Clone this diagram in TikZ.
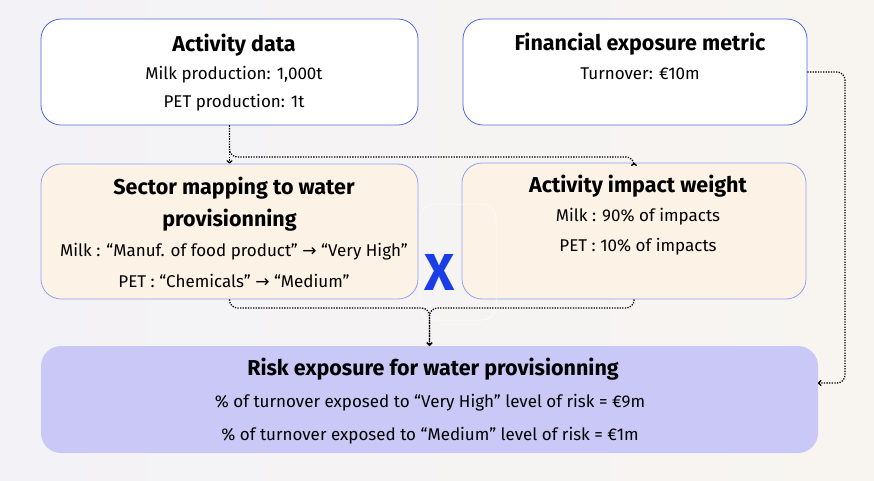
\documentclass[tikz,border=0pt]{standalone}
\usepackage{fontspec}
\setmainfont{Fira Sans}
\newfontfamily\arrowfont{DejaVu Sans}
\usetikzlibrary{arrows.meta}
\definecolor{bgL}{HTML}{F3F2F6}
\definecolor{bgR}{HTML}{F8F5F1}
\definecolor{topB}{HTML}{4B6BDF}
\definecolor{midB}{HTML}{8FA1EF}
\definecolor{midF}{HTML}{FCF2E6}
\definecolor{riskF}{HTML}{C9C8F6}
\definecolor{xblue}{HTML}{1A3DE8}
\newcommand{\rarr}{{\arrowfont →}}
\tikzset{
  box/.style={rounded corners=20pt, minimum width=#1, inner sep=0pt},
  topbox/.style={draw=topB, line width=0.8pt, fill=white},
  midbox/.style={draw=midB, line width=0.8pt, fill=midF},
  riskbox/.style={fill=riskF},
  ttl/.style={font=\fontsize{21.5}{24}\selectfont\bfseries, anchor=center},
  txt/.style={font=\fontsize{17}{20}\selectfont, anchor=center},
  conn/.style={line width=1.3pt, dash pattern=on 1.3pt off 1.3pt, rounded corners=8pt, -{To[length=3.5pt,width=6pt]}}
}
\begin{document}
\begin{tikzpicture}[x=1pt,y=-1pt]
\shade[left color=bgL, right color=bgR] (0,0) rectangle (874,480);
\useasboundingbox (0,0) rectangle (874,480);
% boxes
\node[box=377pt, minimum height=106pt, topbox] (act) at (229.5,72) {};
\node[box=344pt, minimum height=106pt, topbox] (fin) at (635,72) {};
\node[box=377pt, minimum height=135pt, midbox] (sec) at (229.5,231.5) {};
\node[box=344pt, minimum height=136pt, midbox] (imp) at (634,231) {};
\node[box=777pt, minimum height=107pt, riskbox] (risk) at (429.5,399.5) {};
% faint frame and X
\node[rounded corners=14pt, draw=white, line width=0.5pt, minimum width=76pt, minimum height=116pt, inner sep=0pt] (xframe) at (458,262) {};
\node[font=\fontsize{52}{54}\selectfont\bfseries, text=xblue, inner sep=0pt] (times) at (440,272) {X};
% texts
\node[ttl] (actT) at (234,45) {Activity data};
\node[txt] (actA) at (234,75) {Milk production: 1,000t};
\node[txt] (actB) at (234,103) {PET production: 1t};
\node[ttl] (finT) at (640,44) {Financial exposure metric};
\node[txt] (finA) at (640,74) {Turnover: €10m};
\node[ttl] (secT1) at (234,188) {Sector mapping to water};
\node[ttl] (secT2) at (229.5,220) {provisionning};
\node[txt] (secA) at (234,252) {Milk : “Manuf. of food product” \rarr{} “Very High”};
\node[txt] (secB) at (234,281) {PET : “Chemicals” \rarr{} “Medium”};
\node[ttl] (impT) at (638,186) {Activity impact weight};
\node[txt] (impA) at (638,217) {Milk : 90\% of impacts};
\node[txt] (impB) at (638,247) {PET : 10\% of impacts};
\node[ttl] (riskT) at (433,369) {Risk exposure for water provisionning};
\node[txt] (riskA) at (430,403) {\% of turnover exposed to “Very High” level of risk = €9m};
\node[txt] (riskB) at (430,436) {\% of turnover exposed to “Medium” level of risk = €1m};
% connectors
\coordinate (riskin) at (818,383);
\draw[conn] (act.south) -- (sec.north);
\draw[conn] (act.south) -- (229.5,157) -- (634,157) -- (imp.north);
\draw[conn] (sec.south) -- (229.5,308) -- (429.5,308) -- (risk.north);
\draw[conn] (imp.south) -- (634,308) -- (429.5,308) -- (risk.north);
\draw[conn] (fin.east) -- (845,72) -- (845,383) -- (riskin);
\end{tikzpicture}
\end{document}
